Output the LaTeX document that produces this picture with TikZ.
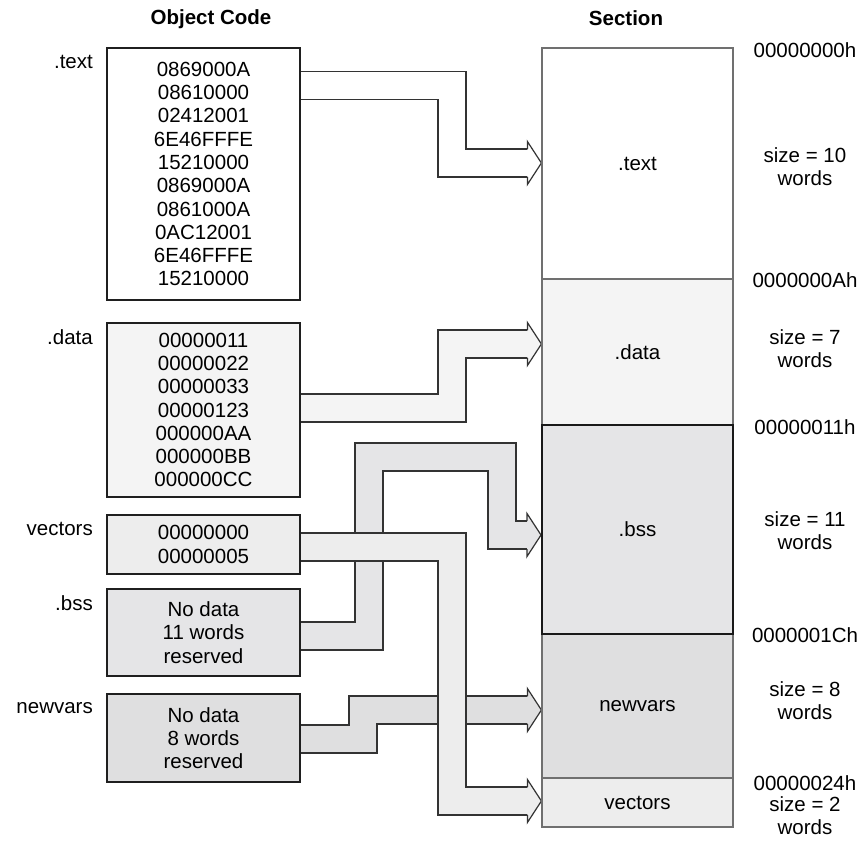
\documentclass[tikz,border=0pt]{standalone}
\usepackage{fontspec}
\setmainfont{Liberation Sans}
\usetikzlibrary{backgrounds}
\definecolor{outl}{HTML}{333333}
\definecolor{cdata}{HTML}{F4F4F4}
\definecolor{cvec}{HTML}{EDEDED}
\definecolor{cbss}{HTML}{E5E5E7}
\definecolor{cnew}{HTML}{DFDFE0}
\definecolor{colb}{HTML}{707070}
\newcommand\barrow[3]{%
  \draw[bandout] #2;
  \draw[bandin=#1] #2;
  \path #3 coordinate (tip);
  \filldraw[fill=#1, draw=outl, line width=1.2pt]
    ([xshift=-14pt,yshift=14pt]tip) -- ([xshift=-14pt,yshift=21.5pt]tip) -- (tip)
    -- ([xshift=-14pt,yshift=-21.5pt]tip) -- ([xshift=-14pt,yshift=-14pt]tip);
}
\begin{document}
\begin{tikzpicture}[x=1pt,y=-1pt,
  every node/.style={font=\fontsize{20.5}{23.3}\selectfont, inner sep=0pt},
  ocbox/.style={draw=black!88, line width=2pt, minimum width=193pt, align=center},
  secbox/.style={draw=colb, line width=1.2pt, minimum width=191pt},
  title/.style={font=\fontsize{20.5}{23.3}\selectfont\bfseries},
  lbl/.style={anchor=east},
  rlbl/.style={align=center},
  bandout/.style={draw=outl, line width=29.2pt},
  bandin/.style={draw=#1, line width=26.8pt},
]
\useasboundingbox (0,0) rectangle (865,841);

% titles
\node[title] (t1) at (211,19) {Object Code};
\node[title] (t2) at (626,18) {Section};

% object code boxes
\node[ocbox, fill=white, minimum height=252pt] (otext) at (203.5,174)
  {0869000A\\08610000\\02412001\\6E46FFFE\\15210000\\0869000A\\0861000A\\0AC12001\\6E46FFFE\\15210000};
\node[ocbox, fill=cdata, minimum height=174pt] (odata) at (203.5,410)
  {00000011\\00000022\\00000033\\00000123\\000000AA\\000000BB\\000000CC};
\node[ocbox, fill=cvec, minimum height=59pt] (ovec) at (203.5,544.5)
  {00000000\\00000005};
\node[ocbox, fill=cbss, minimum height=87pt] (obss) at (203.5,632.5)
  {No data\\11 words\\reserved};
\node[ocbox, fill=cnew, minimum height=88pt] (onew) at (203.5,738)
  {No data\\ 8 words\\reserved};

% left labels
\node[lbl] (ltext) at (93,62) {.text};
\node[lbl] (ldata) at (93,337) {.data};
\node[lbl] (lvec) at (93,529) {vectors};
\node[lbl] (lbss) at (93,603) {.bss};
\node[lbl] (lnew) at (93,708) {newvars};

% section column
\node[secbox, fill=white, minimum height=231pt] (stext) at (637.5,163.5) {.text};
\node[secbox, fill=cdata, minimum height=146pt] (sdata) at (637.5,352) {.data};
\node[secbox, fill=cnew, minimum height=144pt] (snew) at (637.5,706) {newvars};
\node[secbox, fill=cvec, minimum height=49pt] (svec) at (637.5,802.5) {vectors};
\node[secbox, draw=black!90, line width=2pt, fill=cbss, minimum height=209pt] (sbss) at (637.5,529.5) {.bss};

% right labels
\node (a0) at (805,50) {00000000h};
\node (a1) at (805,280) {0000000Ah};
\node (a2) at (805,427) {00000011h};
\node (a3) at (805,635) {0000001Ch};
\node (a4) at (805,783) {00000024h};
\node[rlbl] (z0) at (805,167) {size = 10\\words};
\node[rlbl] (z1) at (805,349) {size = 7\\words};
\node[rlbl] (z2) at (805,531) {size = 11\\words};
\node[rlbl] (z3) at (805,701) {size = 8\\words};
\node[rlbl] (z4) at (805,816) {size = 2\\words};

% block arrows
\begin{scope}[on background layer]
\fill[white] (0,0) rectangle (865,841);
\barrow{white}{(otext.east |- 0,85.5) -| (452,163) -- (528,163)}{(stext.west |- 0,163)}
\barrow{cdata}{(odata.east |- 0,408) -| (452,344) -- (528,344)}{(sdata.west |- 0,344)}
\barrow{cbss}{(obss.east |- 0,636) -| (369,457) -| (502,535) -- (528,535)}{(sbss.west |- 0,535)}
\barrow{cnew}{(onew.east |- 0,739) -| (363,710) -- (528,710)}{(snew.west |- 0,710)}
\barrow{cvec}{(ovec.east |- 0,547) -| (452,801) -- (528,801)}{(svec.west |- 0,801)}
\end{scope}
\end{tikzpicture}
\end{document}
